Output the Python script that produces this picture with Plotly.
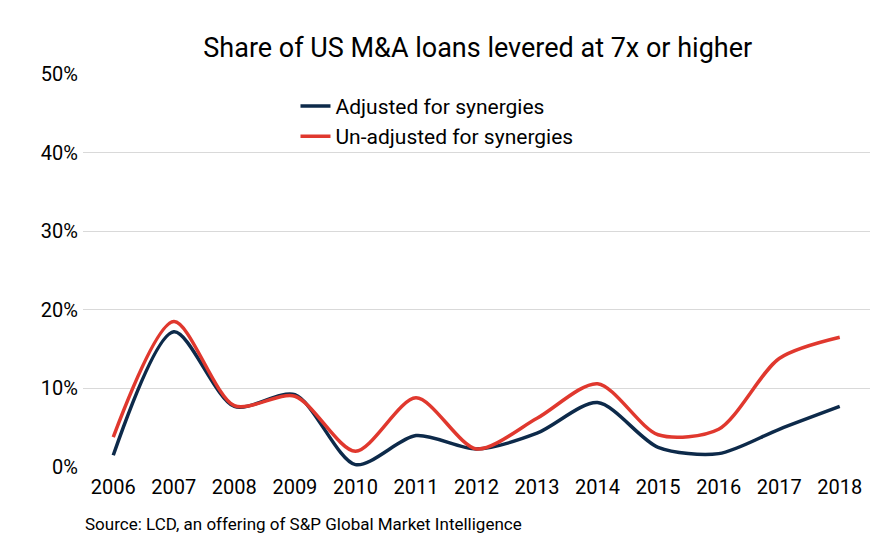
import plotly.graph_objects as go

years = [str(y) for y in range(2006, 2019)]
adjusted = [1.5, 17.2, 7.7, 9.2, 0.3, 4.0, 2.3, 4.3, 8.2, 2.5, 1.7, 4.8, 7.7]
unadjusted = [3.8, 18.5, 7.8, 9.0, 2.0, 8.8, 2.3, 6.2, 10.6, 4.1, 4.8, 13.8, 16.5]
yticks = [0, 10, 20, 30, 40, 50]
ylabels = ["0%", "10%", "20%", "30%", "40%", "50%"]

F = "Liberation Sans Narrow, Arial Narrow, Roboto, sans-serif"
fig = go.Figure()
fig.add_trace(go.Scatter(x=years, y=adjusted, mode="lines", name="Adjusted for synergies",
                         line=dict(color="#0D2A4A", width=3.5, shape="spline", smoothing=0.8)))
fig.add_trace(go.Scatter(x=years, y=unadjusted, mode="lines", name="Un-adjusted for synergies",
                         line=dict(color="#E0382E", width=3.5, shape="spline", smoothing=0.8)))
fig.update_layout(
    width=878, height=555, paper_bgcolor="white", plot_bgcolor="white",
    margin=dict(l=75, r=16, t=66, b=96, autoexpand=False),
    font=dict(family=F, size=20, color="black"),
    title=dict(text="Share of US M&A loans levered at 7x or higher", x=0.535, y=0.945,
               xanchor="center", font=dict(size=27, family=F)),
    legend=dict(x=0.27, y=0.97, xanchor="left", yanchor="top", bgcolor="rgba(0,0,0,0)",
                font=dict(size=21, family=F), itemwidth=30, tracegroupgap=4),
    xaxis=dict(type="category", range=[-0.5, 12.5], showgrid=False, ticks="",
               tickfont=dict(size=20), ticklabelstandoff=6),
    yaxis=dict(range=[0, 50], tickvals=yticks, ticktext=ylabels, gridcolor="#D9D9D9",
               zeroline=False, tickfont=dict(size=20), ticklabelstandoff=4),
    annotations=[dict(text="Source: LCD, an offering of S&P Global Market Intelligence",
                      xref="paper", yref="paper", x=-0.0, y=-0.115, xanchor="left",
                      yanchor="top", showarrow=False, font=dict(size=17, family=F))],
)
fig.write_html("out.html")
